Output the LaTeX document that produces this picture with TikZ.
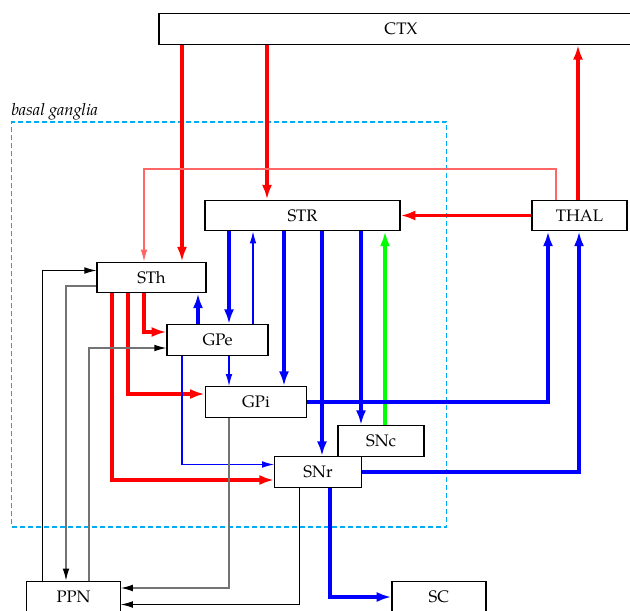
\documentclass[tikz,border=0pt]{standalone}
\usepackage{fontspec}
\setmainfont{TeX Gyre Pagella}
\usetikzlibrary{arrows.meta}
\begin{document}
\begin{tikzpicture}[x=0.75pt,y=-0.75pt,
  box/.style={draw, line width=0.9pt, minimum height=23pt, inner sep=0pt, fill=white, font=\fontsize{12.5}{14}\selectfont},
  thk/.style={line width=2.3pt, -{Latex[length=11pt,width=7.5pt]}},
  thn/.style={line width=0.8pt, -{Latex[length=9pt,width=5pt]}},
  blk/.style={line width=0.75pt, -{Latex[length=9pt,width=5pt]}},
  lred/.style={draw=red!60},
  grayln/.style={draw=black!55, line width=0.9pt, -{Latex[length=9pt,width=5pt,black]}}
]
\useasboundingbox (0,0) rectangle (630,610);
% basal ganglia frame
\node[draw=cyan, dash pattern=on 3.75pt off 2.25pt, line width=0.9pt, minimum width=326.25pt, minimum height=303.75pt, inner sep=0pt] (bg) at (229,324.5) {};
\node[anchor=base west, font=\fontsize{12.5}{14}\selectfont\itshape, inner sep=0pt] (bglabel) at (11,115) {basal ganglia};
% nodes
\node[box, minimum width=363pt] (CTX) at (401,29) {CTX};
\node[box, minimum width=146.25pt] (STR) at (302.5,215.5) {STR};
\node[box, minimum width=71.25pt] (THAL) at (579.5,215.5) {THAL};
\node[box, minimum width=81.75pt] (STh) at (151.5,277.5) {STh};
\node[box, minimum width=75.75pt] (GPe) at (217.5,340) {GPe};
\node[box, minimum width=76pt] (GPi) at (256,402) {GPi};
\node[box, minimum width=64.5pt] (SNc) at (381,441) {SNc};
\node[box, minimum width=65pt] (SNr) at (318,472) {SNr};
\node[box, minimum width=70pt] (PPN) at (73.5,596.5) {PPN};
\node[box, minimum width=70.5pt] (SC) at (439,596.5) {SC};
% cortex / thalamus
\draw[thk,red] (CTX.south -| 182,0) -- (STh.north -| 182,0);
\draw[thk,red] (CTX.south -| 267,0) -- (STR.north -| 267,0);
\draw[thk,red] (THAL.north -| 578,0) -- (CTX.south -| 578,0);
\draw[thk,red] (THAL.west) -- (STR.east);
\draw[thn,lred] (THAL.north -| 556,0) |- (144,169) -- (STh.north -| 144,0);
% striatum
\draw[thk,blue] (STR.south -| 229,0) -- (GPe.north -| 229,0);
\draw[thn,blue] (GPe.north -| 253,0) -- (STR.south -| 253,0);
\draw[thk,blue] (STR.south -| 284,0) -- (GPi.north -| 284,0);
\draw[thk,blue] (STR.south -| 322,0) -- (SNr.north -| 322,0);
\draw[thk,blue] (STR.south -| 361,0) -- (SNc.north -| 361,0);
\draw[thk,green] (SNc.north -| 385,0) -- (STR.south -| 385,0);
% GPe / STh
\draw[thk,blue] (GPe.north -| 198,0) -- (STh.south -| 198,0);
\draw[thk,red] (STh.south -| 144,0) |- (GPe.west |- 0,332);
\draw[thk,red] (STh.south -| 128,0) |- (GPi.west |- 0,394);
\draw[thk,red] (STh.south -| 112,0) |- (SNr.west |- 0,480);
\draw[thn,blue] (GPe.south -| 229,0) -- (GPi.north -| 229,0);
\draw[thn,blue] (GPe.south -| 182,0) |- (SNr.west |- 0,464.5);
% output to thalamus and SC
\draw[thk,blue] (GPi.east |- 0,402) -| (THAL.south -| 548,0);
\draw[thk,blue] (SNr.east |- 0,472) -| (THAL.south -| 579,0);
\draw[thk,blue] (SNr.south -| 330,0) |- (SC.west |- 0,597);
% PPN
\draw[blk] (SNr.south -| 299.5,0) |- (PPN.east |- 0,604.5);
\draw[grayln] (GPi.south -| 229,0) |- (PPN.east |- 0,588);
\draw[blk] (PPN.north -| 42.5,0) |- (STh.west |- 0,270.5);
\draw[grayln] (STh.west |- 0,286) -| (PPN.north -| 66,0);
\draw[grayln] (PPN.north -| 89,0) |- (GPe.west |- 0,348);
\end{tikzpicture}
\end{document}
